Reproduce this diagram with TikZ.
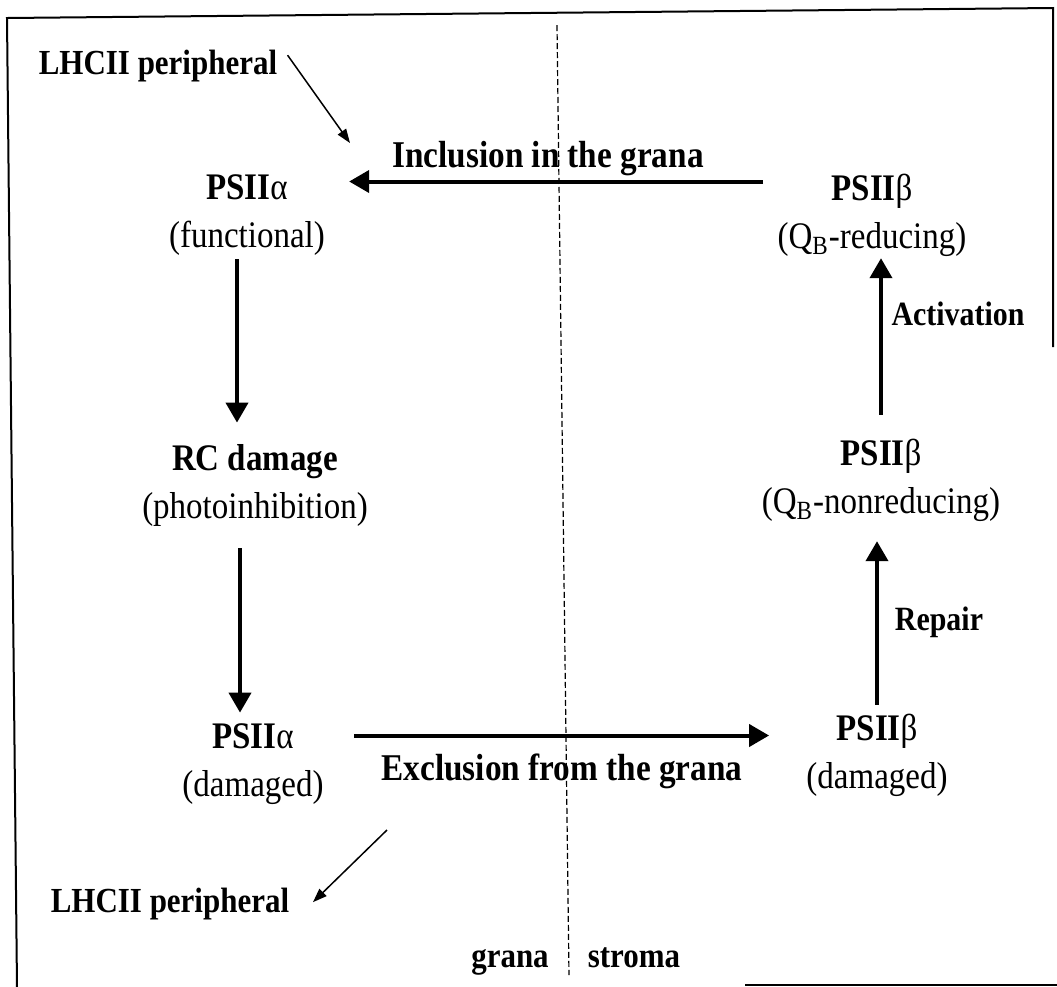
\documentclass[tikz,border=0pt]{standalone}
\usepackage{fontspec}
\setmainfont{Liberation Serif}[FakeStretch=0.88]
\usetikzlibrary{arrows.meta,positioning}
\tikzset{
    stage-title/.style = {font=\bfseries\fontsize{18.75}{22}\selectfont, inner sep=0pt, text height=12.5pt, text depth=0pt},
    stage-note/.style = {font=\fontsize{18.75}{22}\selectfont, inner sep=0pt, text height=13pt, text depth=4pt},
    move-label/.style = {font=\bfseries\fontsize{18.9}{22}\selectfont, inner sep=0pt, anchor=base},
    step-label/.style = {font=\bfseries\fontsize{17}{20}\selectfont, inner sep=0pt, anchor=base},
    lhc-label/.style = {font=\bfseries\fontsize{17.6}{20}\selectfont, inner sep=0pt, anchor=base},
    flow-arrow/.style = {line width=2pt, -{Triangle[length=10pt,width=11pt]}},
    feed-arrow/.style = {line width=0.75pt, -{Triangle[length=7pt,width=5pt]}},
    zone-line/.style = {line width=0.6pt, dash pattern=on 3pt off 1.5pt},
    frame-line/.style = {line width=1pt},
}

\begin{document}
\begin{tikzpicture}[x=0.5pt, y=-0.5pt]
\fill[white] (0,0) rectangle (1057,987);
\useasboundingbox (0,0) rectangle (1057,987);
% frame and the grana / stroma border
\draw[frame-line] (17,987) -- (7,18) -- (1053,8) -- (1053,347);
\draw[frame-line] (745,985) -- (1057,985);
\draw[zone-line] (557,25) -- (569,975);

% PSII alpha side (grana)
\node[stage-title, anchor=base] (psiiaTop) at (247,199) {PSII{\mdseries α}};
\node[stage-note, below=11pt of psiiaTop] (psiiaTopNote) {(functional)};
\node[stage-title, anchor=base] (rcDamage) at (255,470) {RC damage};
\node[stage-note, below=11pt of rcDamage] (rcDamageNote) {(photoinhibition)};
\node[stage-title, anchor=base] (psiiaBot) at (253,748) {PSII{\mdseries α}};
\node[stage-note, below=11pt of psiiaBot] (psiiaBotNote) {(damaged)};

% PSII beta side (stroma)
\node[stage-title, anchor=base] (psiibTop) at (872,200) {PSII{\mdseries β}};
\node[stage-note, below=11pt of psiibTop] (psiibTopNote) {(Q\textsubscript{B}-reducing)};
\node[stage-title, anchor=base] (psiibMid) at (881,465) {PSII{\mdseries β}};
\node[stage-note, below=11pt of psiibMid] (psiibMidNote) {(Q\textsubscript{B}-nonreducing)};
\node[stage-title, anchor=base] (psiibBot) at (877,740) {PSII{\mdseries β}};
\node[stage-note, below=11pt of psiibBot] (psiibBotNote) {(damaged)};

% labels
\node[lhc-label] (lhcTop) at (158,74) {LHCII peripheral};
\node[lhc-label] (lhcBot) at (170,912) {LHCII peripheral};
\node[move-label] (inclusion) at (548,167) {Inclusion in the grana};
\node[move-label] (exclusion) at (562,780) {Exclusion from the grana};
\node[step-label] (activation) at (958,325) {Activation};
\node[step-label] (repair) at (939,630) {Repair};
\node[lhc-label] (grana) at (510,967) {grana};
\node[lhc-label] (stroma) at (634,967) {stroma};

\coordinate (lhcIn) at (350,143);
\coordinate (lhcOut) at (387,830);

% cycle
\draw[flow-arrow, shorten <=1.5pt, shorten >=11pt] ([xshift=-5pt]psiiaTopNote.south) -- ([xshift=-5pt]psiiaTopNote.south |- rcDamage.north);
\draw[flow-arrow, shorten <=10.5pt, shorten >=5pt] ([xshift=-7.5pt]rcDamageNote.south) -- ([xshift=-7.5pt]rcDamageNote.south |- psiiaBot.north);
\draw[flow-arrow, shorten <=30pt, shorten >=33.5pt] (psiiaBot.east) -- (psiiaBot.east -| psiibBot.west);
\draw[flow-arrow, shorten <=5pt, shorten >=9.5pt] (psiibBot.north) -- (psiibBot.north |- psiibMidNote.south);
\draw[flow-arrow, shorten <=12.5pt, shorten >=0.5pt] (psiibMid.north) -- (psiibMid.north |- psiibTopNote.south);
\draw[flow-arrow, shorten <=34pt, shorten >=30.5pt] ([yshift=3pt]psiibTop.west) -- ([yshift=3pt]psiibTop.west -| psiiaTop.east);

% LHCII in and out
\draw[feed-arrow] ([xshift=5pt,yshift=-3pt]lhcTop.north east) -- (lhcIn);
\draw[feed-arrow, shorten >=1pt] (lhcOut) -- ([xshift=11pt]lhcBot.east);
\end{tikzpicture}
\end{document}
